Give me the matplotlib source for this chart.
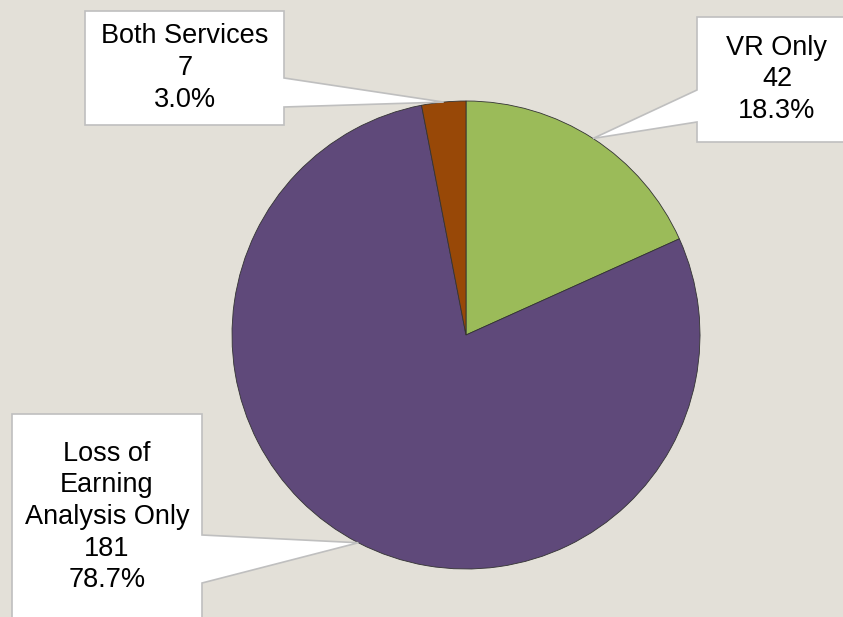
import numpy as np
import matplotlib
matplotlib.use("Agg")
import matplotlib.pyplot as plt
from matplotlib.patches import Polygon

# chart data
labels = ["VR Only", "Loss of\nEarning\nAnalysis Only", "Both Services"]
counts = [42, 181, 7]
pcts = [18.3, 78.7, 3.0]
colors = ["#9BBB59", "#5F497A", "#984807"]

W, H = 843, 617
bg = "#E3E0D8"

fig = plt.figure(figsize=(W / 100, H / 100), dpi=100, facecolor=bg)
ax = fig.add_axes([0, 0, 1, 1])
ax.set_facecolor(bg)

cx, cy, r = 466, H - 335, 234
wedges, _ = ax.pie(counts, colors=colors, startangle=90, counterclock=False,
                   center=(cx, cy), radius=r,
                   wedgeprops=dict(edgecolor="#333333", linewidth=0.6))

# callout boxes: (left, top, right, bottom) in pixels, side the pointer leaves from,
# pointer base offsets along that side
boxes = [
    dict(box=(697, 17, 850, 142), side="left", base=(90, 122), text_x=777),
    dict(box=(12, 414, 202, 640), side="right", base=(535, 583), text_x=107, text_y=517),
    dict(box=(85, 11, 284, 125), side="right", base=(78, 107), text_x=185),
]

for w, lab, n, p, b in zip(wedges, labels, counts, pcts, boxes):
    mid = np.deg2rad((w.theta1 + w.theta2) / 2)
    tx = cx + r * np.cos(mid)
    ty = cy + r * np.sin(mid)
    x0, y0, x1, y1 = b["box"]
    t0, b0 = H - y0, H - y1
    ya, yb = H - b["base"][0], H - b["base"][1]
    if b["side"] == "right":
        pts = [(x0, t0), (x1, t0), (x1, ya), (tx, ty), (x1, yb), (x1, b0), (x0, b0)]
    else:
        pts = [(x0, t0), (x1, t0), (x1, b0), (x0, b0), (x0, yb), (tx, ty), (x0, ya)]
    ax.add_patch(Polygon(pts, closed=True, facecolor="white", edgecolor="#BFBFBF",
                         linewidth=1.2, zorder=3))
    ty_txt = H - b.get("text_y", (y0 + y1) / 2)
    ax.text(b["text_x"], ty_txt, f"{lab}\n{n}\n{p:.1f}%", ha="center", va="center",
            fontsize=19.5, family="Liberation Sans", color="black", linespacing=1.28,
            zorder=4)

ax.set_xlim(0, W)
ax.set_ylim(0, H)
ax.set_aspect("auto")
ax.axis("off")

fig.savefig("out.png", dpi=100, facecolor=bg)
